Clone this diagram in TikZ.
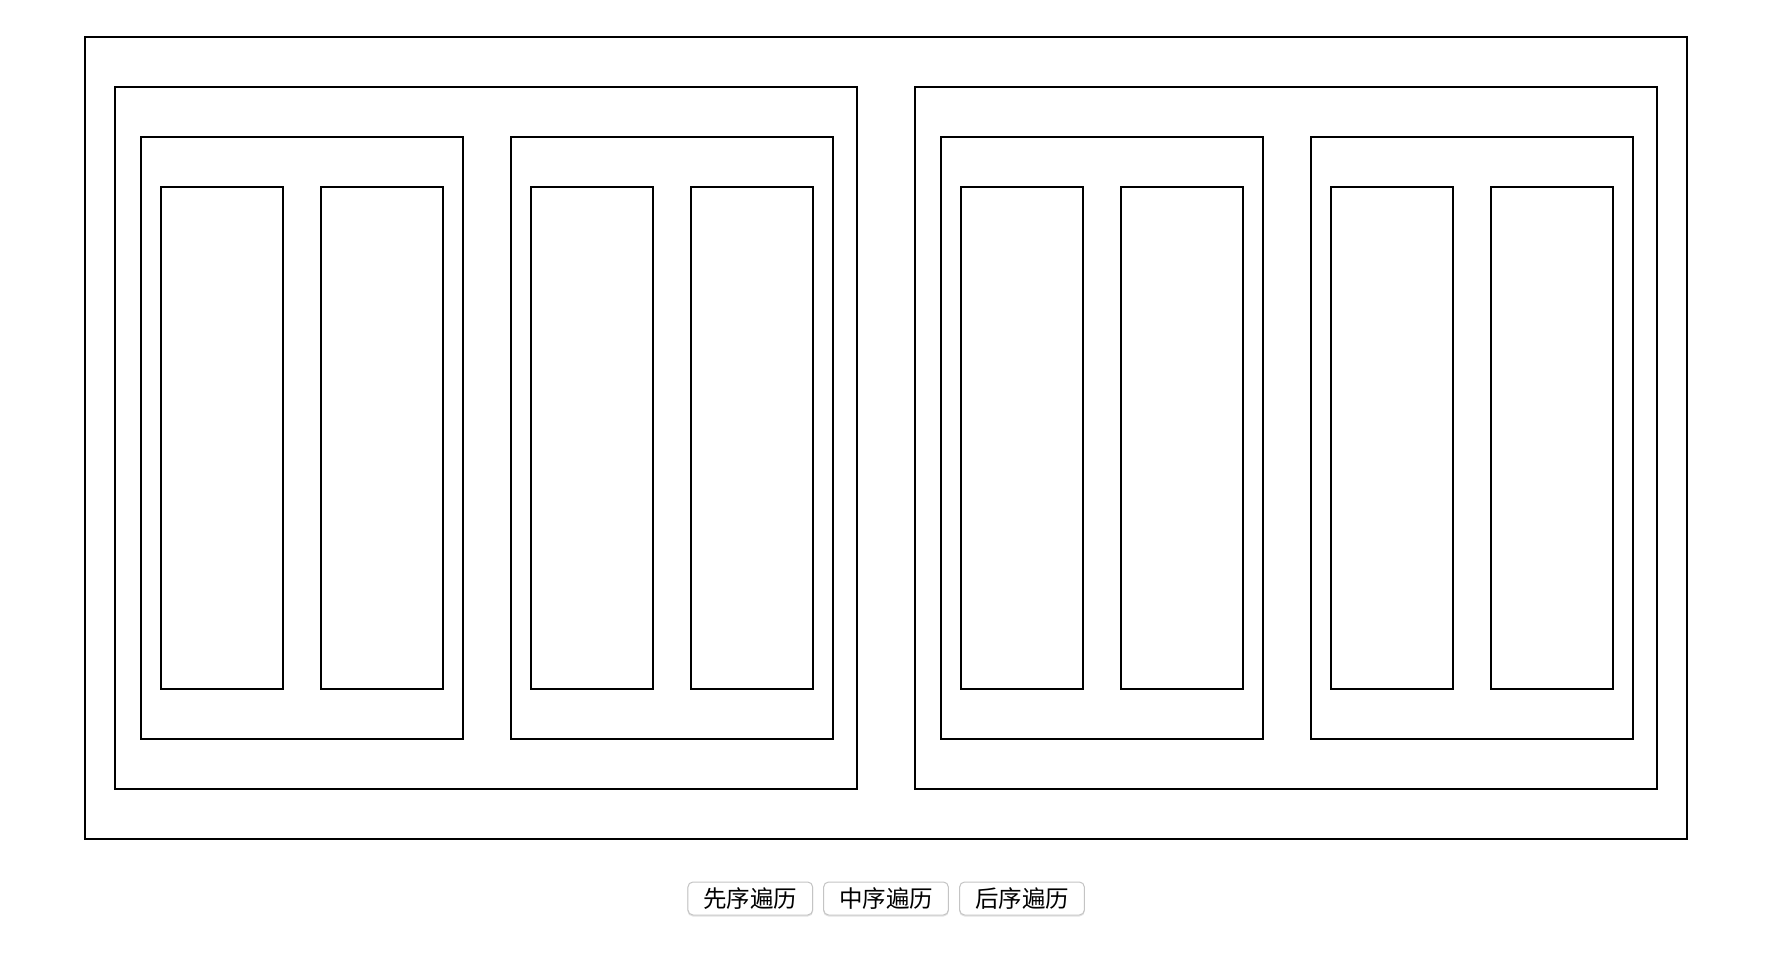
\documentclass[tikz,border=0pt]{standalone}
\usepackage{fontspec}
\newfontfamily\cjk{Noto Sans CJK SC}
\definecolor{btnborder}{HTML}{C4C4C4}
\definecolor{btnshadow}{HTML}{E2E2E2}
\tikzset{
  box/.style={draw=black, line width=1.5pt, inner sep=0pt, fill=white},
  outerbox/.style={box, minimum width=1602pt, minimum height=802pt},
  halfbox/.style={box, minimum width=742pt, minimum height=702pt},
  subbox/.style={box, minimum width=322pt, minimum height=602pt},
  leafbox/.style={box, minimum width=122pt, minimum height=502pt},
  btn/.style={draw=btnborder, line width=1pt, rounded corners=5pt, fill=white,
    minimum width=124.7pt, minimum height=33pt, inner sep=0pt,
    font=\cjk\fontsize{23.5}{23.5}\selectfont, text=black},
  btnsh/.style={draw=btnshadow, line width=1pt, rounded corners=5pt,
    minimum width=124.7pt, minimum height=33pt, inner sep=0pt}
}
\begin{document}
\begin{tikzpicture}[x=1pt,y=-1pt]
\useasboundingbox (0,0) rectangle (1780,968);
\fill[white] (0,0) rectangle (1780,968);
\node[outerbox] (root) at (886,438) {};
\node[halfbox] (hl) at (486,438) {};
\node[halfbox] (hr) at (1286,438) {};
\node[subbox] (s1) at (302,438) {};
\node[subbox] (s2) at (672,438) {};
\node[subbox] (s3) at (1102,438) {};
\node[subbox] (s4) at (1472,438) {};
\node[leafbox] (l1) at (222,438) {};
\node[leafbox] (l2) at (382,438) {};
\node[leafbox] (l3) at (592,438) {};
\node[leafbox] (l4) at (752,438) {};
\node[leafbox] (l5) at (1022,438) {};
\node[leafbox] (l6) at (1182,438) {};
\node[leafbox] (l7) at (1392,438) {};
\node[leafbox] (l8) at (1552,438) {};
\node[btnsh] (sh1) at (750.3,899.5) {};
\node[btnsh] (sh2) at (886,899.5) {};
\node[btnsh] (sh3) at (1022,899.5) {};
\node[btn] (b1) at (750.3,898.5) {先序遍历};
\node[btn] (b2) at (886,898.5) {中序遍历};
\node[btn] (b3) at (1022,898.5) {后序遍历};
\end{tikzpicture}
\end{document}
